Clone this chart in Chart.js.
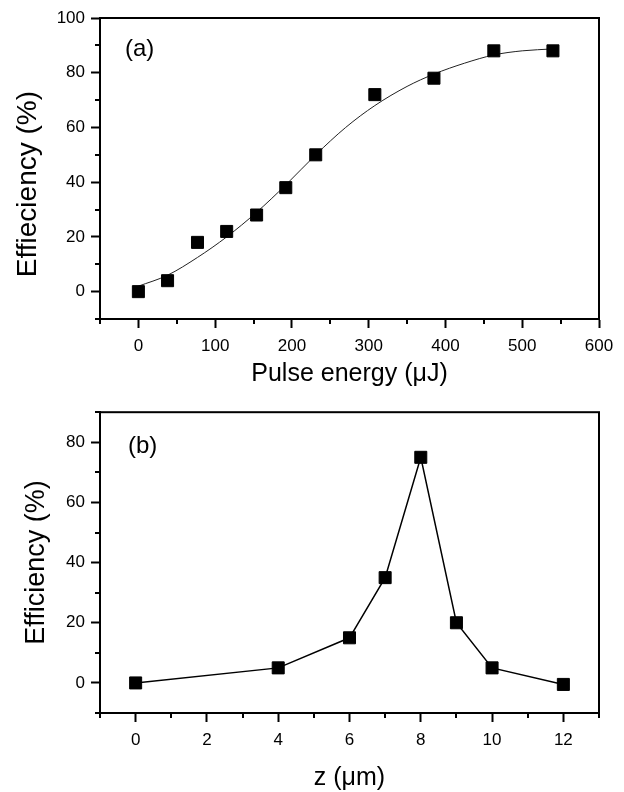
<!DOCTYPE html>
<html><head><meta charset="utf-8">
<script src="https://cdn.jsdelivr.net/npm/chart.js@4/dist/chart.umd.min.js"></script>
<style>
html,body{margin:0;padding:0;background:#fff;}
#wrap{position:relative;width:624px;height:792px;background:#fff;}
.box{position:absolute;left:0;width:624px;height:396px;}
</style></head><body>
<div id="wrap">
<div class="box" style="top:0"><canvas id="ca"></canvas></div>
<div class="box" style="top:396px"><canvas id="cb"></canvas></div>
</div>
<script>
// ---- Panel (a) data ----
const energyA = [0, 38, 77, 115, 154, 192, 231, 308, 385, 463, 540];
const effA = [0, 4, 18, 22, 28, 38, 50, 72, 78, 88, 88];
const fitEnergyA = [0, 38, 77, 115, 154, 192, 231, 270, 308, 350, 385, 425, 463, 500, 540];
const fitEffA = [2, 6, 12.5, 20, 29, 39, 50, 60, 68, 75, 79.5, 83.5, 86.5, 88, 88.7];
const xTicksA = [0, 100, 200, 300, 400, 500, 600];
const xMinorA = [-50, 50, 150, 250, 350, 450, 550];
const yTicksA = [0, 20, 40, 60, 80, 100];
const yMinorA = [-10, 10, 30, 50, 70, 90];
// ---- Panel (b) data ----
const zB = [0, 4, 6, 7, 8, 9, 10, 12];
const effB = [0, 5, 15, 35, 75, 20, 5, -0.5];
const xTicksB = [0, 2, 4, 6, 8, 10, 12];
const xMinorB = [-1, 1, 3, 5, 7, 9, 11, 13];
const yTicksB = [0, 20, 40, 60, 80];
const yMinorB = [-10, 10, 30, 50, 70, 90];

const FONT = "'Liberation Sans', Arial, Helvetica, sans-serif";

const framePlugin = {
  id: 'frame',
  afterDraw(chart, args, opts) {
    const {ctx, chartArea: a, scales} = chart;
    ctx.save();
    ctx.strokeStyle = '#000';
    ctx.lineWidth = 2;
    ctx.strokeRect(a.left, a.top, a.right - a.left, a.bottom - a.top);
    ctx.beginPath();
    opts.xMinor.forEach(v => {
      const px = Math.round(scales.x.getPixelForValue(v));
      ctx.moveTo(px, a.bottom); ctx.lineTo(px, a.bottom + 5);
    });
    opts.yMinor.forEach(v => {
      const py = Math.round(scales.y.getPixelForValue(v));
      ctx.moveTo(a.left, py); ctx.lineTo(a.left - 5, py);
    });
    ctx.stroke();
    ctx.fillStyle = '#000';
    ctx.font = '24px ' + FONT;
    ctx.textBaseline = 'top';
    ctx.fillText(opts.label, a.left + opts.lx, a.top + opts.ly);
    ctx.restore();
  }
};

function pairs(xs, ys) { return xs.map((x, i) => ({x: x, y: ys[i]})); }

function makeChart(id, p) {
  return new Chart(document.getElementById(id), {
    type: 'scatter',
    data: {
      datasets: [
        {
          data: pairs(p.px, p.py),
          showLine: false,
          pointStyle: 'rect',
          pointRadius: 8.5,
          pointBackgroundColor: '#000',
          pointBorderColor: '#000',
          pointBorderWidth: 1
        },
        {
          data: pairs(p.lx, p.ly),
          showLine: true,
          pointRadius: 0,
          borderColor: p.lineColor,
          borderWidth: p.lineWidth,
          cubicInterpolationMode: p.curve ? 'monotone' : 'default',
          tension: 0,
          fill: false
        }
      ]
    },
    options: {
      responsive: true,
      maintainAspectRatio: false,
      animation: false,
      devicePixelRatio: 1,
      layout: {padding: {top: p.padTop, right: 25, left: 0, bottom: 0}},
      plugins: {
        legend: {display: false},
        tooltip: {enabled: false},
        frame: {xMinor: p.xMinor, yMinor: p.yMinor, label: p.label, lx: p.labX, ly: p.labY}
      },
      scales: {
        x: {
          type: 'linear', position: 'bottom', min: p.xmin, max: p.xmax,
          afterBuildTicks: s => { s.ticks = p.xTicks.map(v => ({value: v})); },
          afterFit: s => { s.height = p.xH; },
          grid: {drawOnChartArea: false, drawTicks: true, tickLength: 9, tickWidth: 2, tickColor: '#000', color: '#000'},
          border: {display: true, width: 2, color: '#000'},
          ticks: {color: '#000', font: {family: FONT, size: 17}, padding: 8, maxRotation: 0, autoSkip: false},
          title: {display: true, text: p.xTitle, color: '#000', font: {family: FONT, size: p.xTitleSize}, padding: {top: 0, bottom: p.xTitlePad}}
        },
        y: {
          type: 'linear', position: 'left', min: p.ymin, max: p.ymax,
          afterBuildTicks: s => { s.ticks = p.yTicks.map(v => ({value: v})); },
          afterFit: s => { s.width = 100; },
          grid: {drawOnChartArea: false, drawTicks: true, tickLength: 9, tickWidth: 2, tickColor: '#000', color: '#000'},
          border: {display: true, width: 2, color: '#000'},
          ticks: {color: '#000', font: {family: FONT, size: 17}, padding: 6, autoSkip: false},
          title: {display: true, text: p.yTitle, color: '#000', font: {family: FONT, size: p.yTitleSize}, padding: {top: p.yTitlePad, bottom: 0}}
        }
      }
    },
    plugins: [framePlugin]
  });
}

makeChart('ca', {
  px: energyA, py: effA, lx: fitEnergyA, ly: fitEffA, curve: true,
  lineColor: '#222', lineWidth: 1,
  xmin: -50, xmax: 600, ymin: -10, ymax: 100,
  xTicks: xTicksA, yTicks: yTicksA, xMinor: xMinorA, yMinor: yMinorA,
  padTop: 18, xH: 77, xTitlePad: 7, yTitlePad: 11, xTitleSize: 25, yTitleSize: 28,
  xTitle: 'Pulse energy (\u03BCJ)', yTitle: 'Effieciency (%)\u00A0\u00A0\u00A0\u00A0',
  label: '(a)', labX: 25, labY: 19
});

makeChart('cb', {
  px: zB, py: effB, lx: zB, ly: effB, curve: false,
  lineColor: '#000', lineWidth: 1.5,
  xmin: -1, xmax: 13, ymin: -10, ymax: 90,
  xTicks: xTicksB, yTicks: yTicksB, xMinor: xMinorB, yMinor: yMinorB,
  padTop: 16, xH: 79, xTitlePad: -1, yTitlePad: 20, xTitleSize: 25, yTitleSize: 27,
  xTitle: 'z (\u03BCm)', yTitle: 'Efficiency (%)',
  label: '(b)', labX: 28, labY: 22
});
</script>
</body></html>
